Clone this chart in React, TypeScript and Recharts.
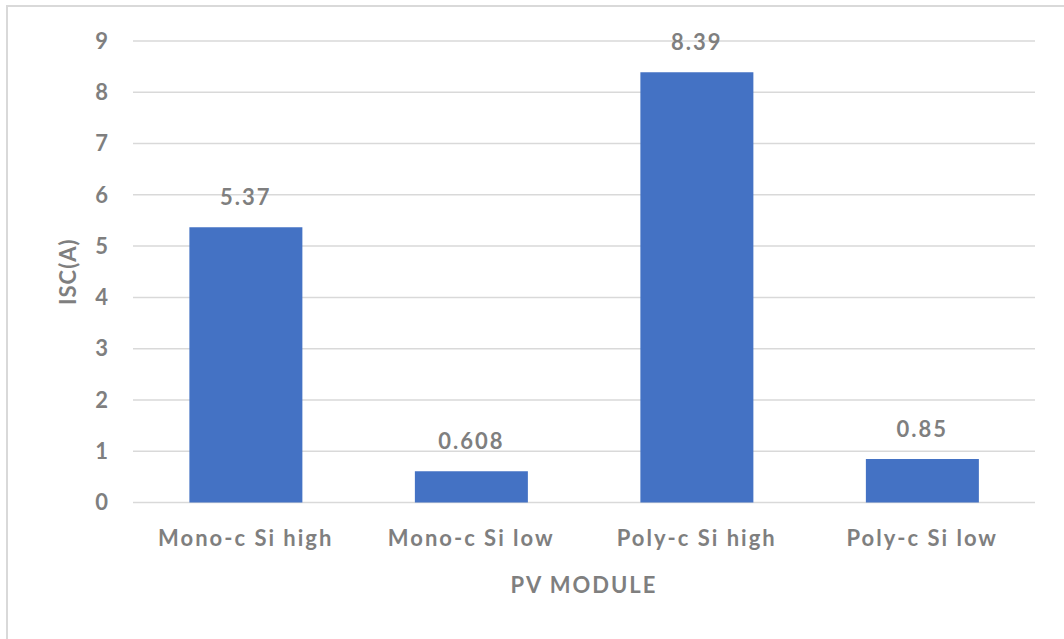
import { BarChart, Bar, XAxis, YAxis, CartesianGrid, LabelList } from "recharts";

const modules = ["Mono-c Si high", "Mono-c Si low", "Poly-c Si high", "Poly-c Si low"];
const isc = [5.37, 0.608, 8.39, 0.85];
const yTicks = [0, 1, 2, 3, 4, 5, 6, 7, 8, 9];

const data = modules.map((name, i) => ({ name, isc: isc[i] }));

const textColor = "#7f7f7f";
const font = "Lato, 'Open Sans', sans-serif";
const textStyle = { fill: textColor, fontSize: 22, fontWeight: 700, fontFamily: font, letterSpacing: 2 };

// rotated y-axis title, centred on the plot height
const YTitle = ({ viewBox }: any) => {
  const x = viewBox.x + 67;
  const y = viewBox.y + viewBox.height / 2;
  return (
    <text
      x={x}
      y={y}
      transform={`rotate(-90, ${x}, ${y})`}
      textAnchor="middle"
      dominantBaseline="central"
      {...textStyle}
      letterSpacing={1}
    >
      ISC(A)
    </text>
  );
};

export default function App() {
  return (
    <div style={{ position: "absolute", left: 0, top: 0, width: 1064, height: 639, overflow: "hidden", background: "#fff" }}>
      <div
        style={{
          position: "absolute",
          left: 6,
          top: 5,
          width: 1058,
          height: 634,
          borderLeft: "2px solid #d9d9d9",
          borderTop: "2px solid #d9d9d9",
          boxSizing: "border-box",
        }}
      />
      <div style={{ position: "absolute", left: 0, top: 0 }}>
        <BarChart
          width={1064}
          height={639}
          data={data}
          margin={{ top: 41, right: 29, bottom: 36, left: 0 }}
          barCategoryGap="25%"
        >
          <CartesianGrid vertical={false} stroke="#d9d9d9" strokeWidth={1.5} />
          <XAxis
            dataKey="name"
            height={100.5}
            axisLine={false}
            tickLine={false}
            tickSize={0}
            tickMargin={28}
            tick={textStyle}
            label={{ value: "PV MODULE", position: "insideBottom", offset: 10, ...textStyle }}
          />
          <YAxis
            width={133}
            domain={[0, 9]}
            ticks={yTicks}
            interval={0}
            axisLine={false}
            tickLine={false}
            tickSize={0}
            tickMargin={25}
            tick={{ ...textStyle, letterSpacing: 0 }}
            label={<YTitle />}
          />
          <Bar dataKey="isc" fill="#4472c4" isAnimationActive={false}>
            <LabelList
              dataKey="isc"
              position="top"
              offset={22}
              fill={textColor}
              fontSize={22}
              fontWeight={700}
              fontFamily={font}
              letterSpacing={2}
            />
          </Bar>
        </BarChart>
      </div>
    </div>
  );
}
